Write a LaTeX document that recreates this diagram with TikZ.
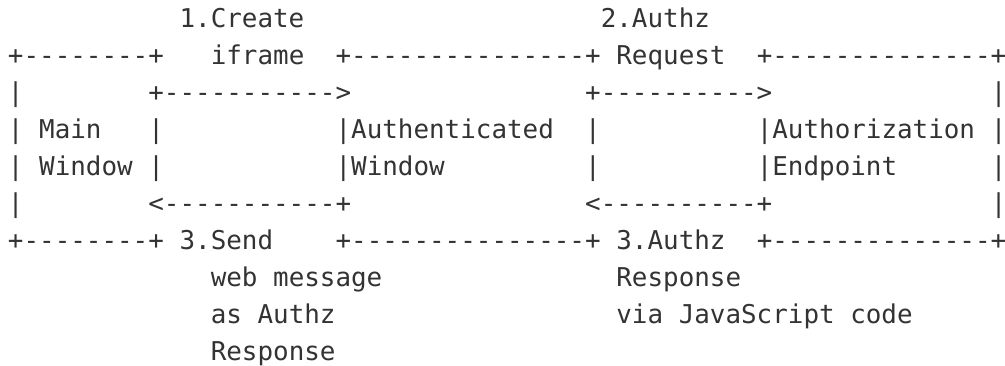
\documentclass[tikz,border=0pt]{standalone}
\usepackage{fontspec}
\setmonofont{DejaVu Sans Mono}
\definecolor{ink}{HTML}{333333}

% one text cell of the character grid: name, column, row, text
\newcommand\seg[4]{\node[txt] (#1) at ({8+15.6*#2},{-28-36.9*(#3-1)}) {#4};}

\begin{document}
\begin{tikzpicture}[x=1pt,y=1pt,
  txt/.style={anchor=base west, inner sep=0pt, outer sep=0pt,
    font=\ttfamily\fontsize{25.9}{31}\selectfont, text=ink}]
\useasboundingbox (0,0) rectangle (1005,-366);

% row 1: request labels
\seg{lblCreate}{11}{1}{1.Create}
\seg{lblAuthz}{38}{1}{2.Authz}

% row 2: top edges of the three windows
\seg{topMain}{0}{2}{+--------+}
\seg{lblIframe}{13}{2}{iframe}
\seg{topAuth}{21}{2}{+---------------+}
\seg{lblRequest}{39}{2}{Request}
\seg{topEnd}{48}{2}{+--------------+}

% row 3: forward arrows
\seg{sideMainA}{0}{3}{|}
\seg{arrCreate}{9}{3}{+----------->}
\seg{arrRequest}{37}{3}{+---------->}
\seg{sideEndA}{63}{3}{|}

% row 4
\seg{sideMainB}{0}{4}{|}
\seg{txtMain}{2}{4}{Main}
\seg{sideMainC}{9}{4}{|}
\seg{txtAuthenticated}{21}{4}{|Authenticated}
\seg{sideAuthB}{37}{4}{|}
\seg{txtAuthorization}{48}{4}{|Authorization}
\seg{sideEndB}{63}{4}{|}

% row 5
\seg{sideMainD}{0}{5}{|}
\seg{txtWindow}{2}{5}{Window}
\seg{sideMainE}{9}{5}{|}
\seg{txtWindowB}{21}{5}{|Window}
\seg{sideAuthC}{37}{5}{|}
\seg{txtEndpoint}{48}{5}{|Endpoint}
\seg{sideEndC}{63}{5}{|}

% row 6: return arrows
\seg{sideMainF}{0}{6}{|}
\seg{arrSend}{9}{6}{<-----------+}
\seg{arrResponse}{37}{6}{<----------+}
\seg{sideEndD}{63}{6}{|}

% row 7: bottom edges and response labels
\seg{botMain}{0}{7}{+--------+}
\seg{lblSend}{11}{7}{3.Send}
\seg{botAuth}{21}{7}{+---------------+}
\seg{lblAuthzResp}{39}{7}{3.Authz}
\seg{botEnd}{48}{7}{+--------------+}

% rows 8-10: continued labels
\seg{lblWebMsg}{13}{8}{web message}
\seg{lblResponseA}{39}{8}{Response}
\seg{lblAsAuthz}{13}{9}{as Authz}
\seg{lblViaJs}{39}{9}{via JavaScript code}
\seg{lblResponseB}{13}{10}{Response}
\end{tikzpicture}
\end{document}
